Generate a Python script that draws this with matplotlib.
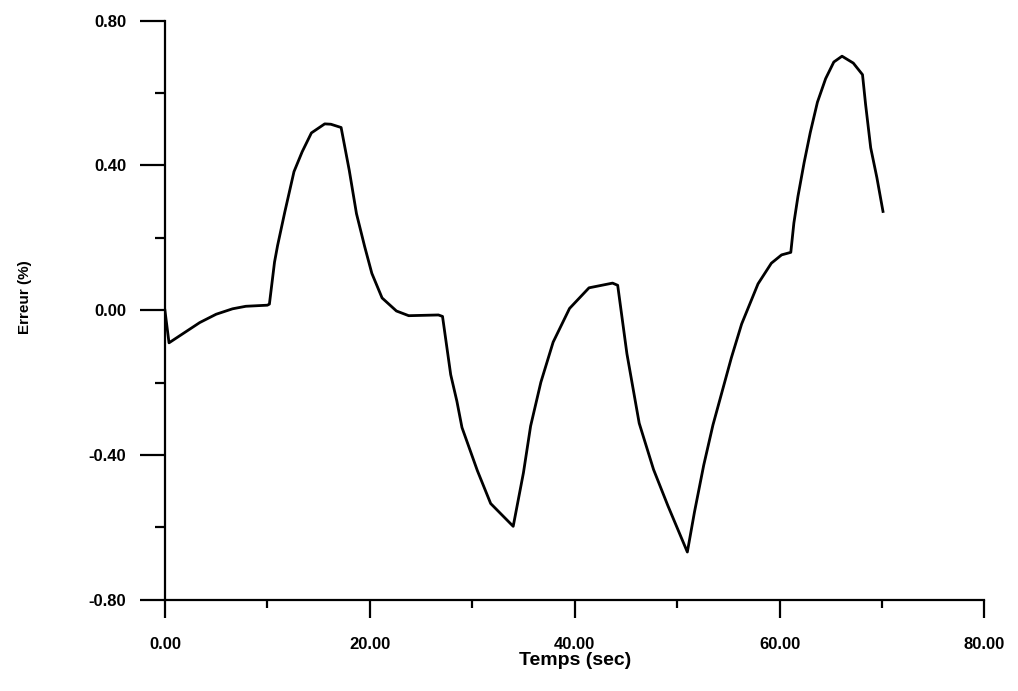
import matplotlib
matplotlib.use("Agg")
from matplotlib import pyplot as plt
from matplotlib.ticker import MultipleLocator, FormatStrFormatter

matplotlib.rc("font", family="Liberation Sans", weight="bold", size=12)

# temps (s) et erreur (%)
temps = [0.0, 0.4, 3.4, 5.0, 6.6, 7.9, 10.0,
         10.2, 10.7, 11.0, 11.7, 12.6, 13.4, 14.3, 15.6, 16.2, 17.2,
         18.0, 18.7, 19.5, 20.2, 21.2, 22.6, 23.8, 26.7, 27.1,
         27.9, 28.5, 29.0, 30.5, 31.8, 34.0,
         35.0, 35.7, 36.7, 37.9, 39.5, 41.4, 43.7, 44.2,
         45.1, 46.3, 47.7, 49.1, 51.0,
         51.7, 52.6, 53.5, 54.4, 55.3, 56.3, 57.9,
         59.2, 60.2, 61.1,
         61.4, 61.8, 62.4, 63.0, 63.7, 64.5, 65.3, 66.1, 67.2, 68.1,
         68.4, 68.9, 69.5, 70.1]
erreur = [0.0, -0.09, -0.034, -0.011, 0.004, 0.011, 0.014,
          0.017, 0.133, 0.179, 0.271, 0.383, 0.438, 0.49, 0.515, 0.514, 0.505,
          0.386, 0.267, 0.176, 0.102, 0.034, -0.002, -0.015, -0.013, -0.017,
          -0.178, -0.251, -0.324, -0.443, -0.534, -0.597,
          -0.449, -0.32, -0.199, -0.088, 0.005, 0.062, 0.075, 0.069,
          -0.12, -0.312, -0.44, -0.54, -0.668,
          -0.557, -0.428, -0.317, -0.224, -0.131, -0.038, 0.073,
          0.13, 0.153, 0.16,
          0.241, 0.315, 0.408, 0.491, 0.575, 0.64, 0.686, 0.702, 0.683, 0.651,
          0.569, 0.449, 0.367, 0.273]

fig = plt.figure(figsize=(10.18, 6.91), dpi=100)
ax = fig.add_axes([0.162, 0.132, 0.805, 0.838])

ax.plot(temps, erreur, color="black", linewidth=2.0)

ax.set_xlim(0, 80)
ax.set_ylim(-0.8, 0.8)
ax.spines["top"].set_visible(False)
ax.spines["right"].set_visible(False)
ax.spines["left"].set_linewidth(1.6)
ax.spines["bottom"].set_linewidth(1.6)

ax.xaxis.set_major_locator(MultipleLocator(20))
ax.xaxis.set_minor_locator(MultipleLocator(10))
ax.yaxis.set_major_locator(MultipleLocator(0.4))
ax.yaxis.set_minor_locator(MultipleLocator(0.2))
ax.xaxis.set_major_formatter(FormatStrFormatter("%.2f"))
ax.yaxis.set_major_formatter(FormatStrFormatter("%.2f"))

ax.tick_params(axis="y", which="major", direction="out", length=18, width=1.6, pad=10)
ax.tick_params(axis="y", which="minor", direction="out", length=7, width=1.6)
ax.tick_params(axis="x", which="major", direction="out", length=13, width=1.6, pad=14)
ax.tick_params(axis="x", which="minor", direction="out", length=6, width=1.6)

ax.set_xlabel("Temps (sec)", fontsize=14, fontweight="bold", labelpad=0)
fig.text(0.025, 0.57, "Erreur (%)", rotation=90, ha="center", va="center",
         fontsize=11, fontweight="bold")

fig.savefig("out.png", dpi=100, facecolor="white")
